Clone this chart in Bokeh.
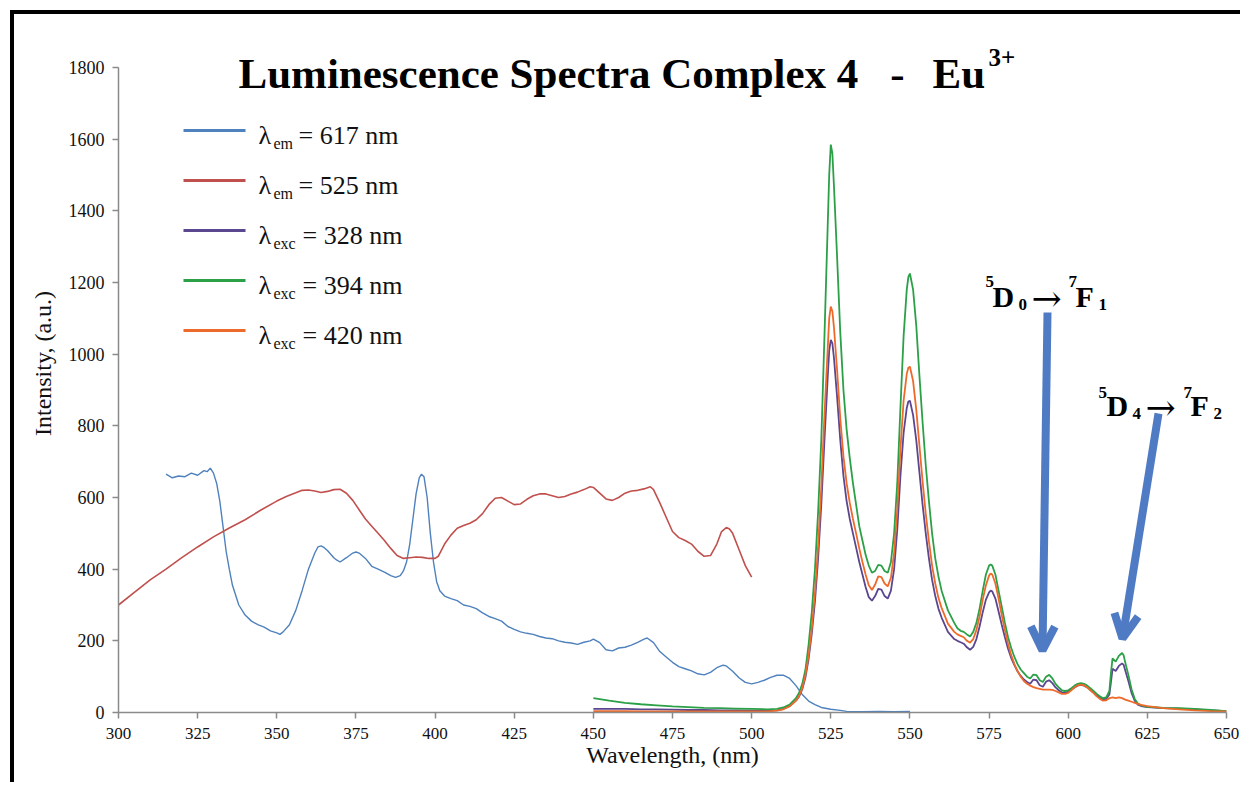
from bokeh.plotting import figure
from bokeh.models import Label, Arrow, OpenHead, Range1d, FixedTicker
from bokeh.embed import file_html
from bokeh.resources import INLINE

# ---------------- data ----------------
# lambda_em = 617 nm (excitation spectrum)
blue_x = [315, 317, 319, 321, 323, 325, 327, 328, 329, 330, 331, 332, 333, 334, 335, 336, 338, 340, 342, 344,
          346, 348, 350, 351, 352, 354, 356, 358, 360, 362, 363, 364, 365, 366, 368, 369, 370, 372, 374, 375,
          376, 378, 380, 382, 384, 386, 387.5, 389, 390, 391, 392, 393, 394, 395, 395.7, 396.5, 397.5, 398.5,
          399.5, 400.5, 401.5, 403, 405, 407, 409, 411, 413, 415, 417, 419, 421, 423, 425, 427, 429, 431, 433,
          435, 437, 439, 441, 443, 445, 447, 449, 450, 452, 454, 456, 458, 460, 462, 464, 466, 467, 469, 471,
          473, 475, 477, 479, 481, 483, 485, 487, 489, 491, 492, 494, 496, 498, 500, 502, 504, 506, 508, 510,
          512, 514, 516, 518, 520, 522, 525, 528, 530, 535, 540, 545, 550]
blue_y = [665, 655, 660, 658, 668, 662, 675, 672, 682, 668, 640, 590, 520, 450, 400, 355, 300, 272, 255, 245,
          238, 228, 222, 218, 225, 245, 285, 340, 400, 445, 462, 465, 460, 452, 432, 425, 420, 432, 445, 448,
          445, 430, 408, 400, 392, 382, 377, 382, 395, 420, 470, 540, 610, 655, 665, 658, 600, 500,
          420, 365, 340, 325, 318, 312, 300, 296, 290, 278, 268, 262, 255, 240, 232, 225, 221, 218, 212,
          208, 206, 200, 196, 194, 190, 196, 200, 205, 195, 175, 172, 180, 182, 188, 196, 205, 208, 195, 170,
          155, 140, 128, 122, 116, 108, 105, 112, 125, 132, 130, 115, 97, 84, 80, 84, 90, 98, 104, 104,
          95, 75, 50, 32, 22, 14, 9, 6, 3, 2, 3, 2, 3]

# lambda_em = 525 nm (excitation spectrum)
red_x = [300, 305, 310, 315, 320, 325, 330, 335, 340, 345, 350, 353, 356, 358, 360, 362, 364, 366, 368, 370,
         372, 374, 376, 378, 380, 382, 384, 386, 388, 390, 392, 394, 396, 398, 400, 401, 403, 405, 407, 409,
         411, 413, 415, 417, 419, 421, 423, 425, 427, 429, 431, 433, 435, 437, 439, 441, 443, 445, 447, 449,
         450, 452, 454, 456, 458, 460, 462, 464, 466, 468, 469, 471, 473, 475, 477, 479, 481, 483, 485, 487,
         489, 490.5, 492, 493, 494, 496, 498, 500]
red_y = [300, 335, 370, 400, 432, 462, 490, 515, 538, 565, 590, 603, 613, 620, 621, 618, 614, 617, 622, 623,
         612, 592, 566, 540, 520, 500, 480, 458, 438, 430, 432, 434, 433, 430, 430, 436, 470, 495, 514, 522,
         528, 538, 555, 580, 598, 600, 590, 580, 582, 595, 605, 610, 610, 605, 600, 603, 610, 615, 622, 630,
         628, 612, 596, 592, 600, 612, 618, 620, 624, 630, 622, 585, 545, 505, 488, 480, 470, 450, 436, 438,
         470, 505, 516, 512, 500, 455, 410, 378]

# emission spectra (shared wavelength grid)
em_x = [450, 455, 460, 465, 470, 475, 480, 485, 490, 495, 500, 505, 508, 510, 512, 514, 515, 516, 517, 518,
        519, 520, 521, 522, 523, 524, 524.5, 525, 525.5, 526, 527, 528, 529, 530, 531, 532, 533, 534, 535, 536,
        537, 538, 539, 540, 541, 542, 543, 544, 545, 546, 547, 548, 549, 549.5, 550, 551, 552, 553, 554, 555,
        556, 557, 558, 559, 560, 562, 564, 565, 566, 567, 568, 569, 570, 571, 572, 573, 574, 575, 575.5, 576,
        577, 578, 579, 580, 581, 582, 583, 584, 585, 586, 587, 588, 589, 590, 591, 592, 593, 594, 595, 596,
        597, 598, 599, 600, 601, 602, 603, 604, 605, 606, 607, 608, 609, 610, 611, 612, 613, 613.5, 614, 615,
        616, 617, 617.5, 618, 619, 620, 621, 622, 623, 625, 630, 635, 640, 645, 650]
# lambda_exc = 328 nm
purple_y = [10, 10, 10, 9, 9, 8, 7, 7, 6, 6, 5, 5, 6, 10, 18, 33, 45, 65, 98, 150,
            220, 310, 430, 580, 760, 930, 1010, 1040, 1030, 990, 880, 760, 660, 590, 540, 500, 460, 420, 385, 350,
            322, 312, 325, 345, 343, 325, 318, 340, 400, 510, 660, 780, 850, 868, 870, 830, 760, 670, 580, 500,
            430, 370, 325, 290, 265, 225, 205, 200, 196, 192, 182, 175, 183, 205, 240, 280, 315, 335, 340, 338,
            318, 282, 245, 210, 178, 152, 132, 115, 102, 92, 85, 80, 92, 90, 76, 72, 86, 90, 82, 70,
            62, 56, 55, 58, 64, 70, 75, 77, 75, 70, 63, 56, 48, 42, 37, 38, 50, 85, 122, 116,
            130, 137, 133, 118, 88, 55, 33, 22, 18, 15, 12, 11, 9, 6, 4]
# lambda_exc = 394 nm
green_y = [40, 33, 27, 23, 20, 17, 15, 13, 12, 11, 10, 9, 10, 14, 22, 40, 55, 80, 120, 190,
           280, 400, 560, 760, 1050, 1350, 1500, 1585, 1560, 1470, 1270, 1060, 900, 790, 710, 640, 580, 520, 480, 440,
           410, 390, 395, 412, 410, 395, 390, 420, 500, 640, 850, 1050, 1180, 1215, 1225, 1180, 1080, 940, 810, 690,
           590, 500, 430, 380, 340, 285, 250, 235, 228, 225, 218, 212, 225, 250, 290, 340, 385, 410, 413, 410,
           385, 340, 295, 250, 210, 180, 155, 135, 120, 110, 100, 95, 106, 104, 90, 85, 100, 105, 95, 80,
           70, 62, 60, 62, 68, 75, 80, 82, 80, 75, 68, 60, 52, 45, 40, 42, 60, 110, 151, 142,
           158, 166, 160, 140, 105, 65, 38, 25, 20, 16, 13, 12, 10, 7, 4]
# lambda_exc = 420 nm
orange_y = [4, 4, 4, 3, 3, 3, 3, 3, 3, 3, 3, 3, 5, 9, 17, 33, 46, 68, 105, 160,
            235, 335, 465, 630, 830, 1010, 1100, 1133, 1120, 1075, 955, 820, 715, 640, 585, 540, 500, 458, 420, 385,
            355, 342, 357, 380, 378, 360, 352, 376, 445, 568, 735, 870, 945, 962, 965, 925, 845, 745, 645, 555,
            478, 410, 360, 320, 292, 248, 225, 218, 214, 210, 200, 195, 205, 230, 268, 315, 355, 382, 388, 385,
            360, 318, 272, 230, 192, 160, 135, 115, 100, 88, 80, 75, 71, 68, 66, 64, 64, 64, 63, 60,
            56, 52, 52, 55, 62, 70, 76, 78, 76, 70, 62, 54, 45, 38, 33, 34, 40, 41, 42, 40,
            42, 40, 38, 36, 33, 30, 27, 24, 21, 18, 12, 9, 6, 4, 3]

x_ticks = [300, 325, 350, 375, 400, 425, 450, 475, 500, 525, 550, 575, 600, 625, 650]
y_ticks = [0, 200, 400, 600, 800, 1000, 1200, 1400, 1600, 1800]

legend_sub = ["em", "em", "exc", "exc", "exc"]
legend_nm = [617, 525, 328, 394, 420]

# ---------------- styling ----------------
C_BLUE = "#4F81BD"
C_RED = "#C0504D"
C_PURPLE = "#5B4690"
C_GREEN = "#2BA047"
C_ORANGE = "#EE6A2A"
C_ARROW = "#4F7BC4"
SERIF = "Liberation Serif"

X0, X1, Y0, Y1 = 300, 650, 0, 1800
# reference pixel geometry of the plot frame (page coords)
FL, FR, FT, FB = 118, 1226, 67, 712
CANVAS_TOP = 14                      # page y of the canvas top (10 margin + 4 border)
Y_TOP = Y1 * (FB - CANVAS_TOP) / (FB - FT)   # frame reaches canvas top so texts are not clipped


def dx(px):
    return X0 + (px - FL) * (X1 - X0) / (FR - FL)


def dy(py):
    return Y0 + (FB - py) * (Y1 - Y0) / (FB - FT)


p = figure(width=1230, height=772, output_backend="svg", toolbar_location=None,
           x_range=Range1d(X0, X1), y_range=Range1d(Y0, Y_TOP),
           min_border_left=104, min_border_right=18, min_border_top=0, min_border_bottom=74)
p.styles = {"margin-left": "10px", "margin-top": "10px",
            "border-top": "4px solid black", "border-left": "4px solid black"}
p.background_fill_color = "white"
p.border_fill_color = "white"
p.outline_line_color = None
p.xgrid.visible = False
p.ygrid.visible = False

p.xaxis.ticker = FixedTicker(ticks=x_ticks)
p.yaxis.ticker = FixedTicker(ticks=y_ticks)
p.yaxis.bounds = (Y0, Y1)
p.xaxis.axis_label = "Wavelength, (nm)"
p.yaxis.axis_label = "Intensity, (a.u.)"
for ax in (p.xaxis[0], p.yaxis[0]):
    ax.axis_line_color = "#8a8a8a"
    ax.axis_line_width = 1.5
    ax.major_tick_line_color = "#8a8a8a"
    ax.major_tick_line_width = 1.5
    ax.minor_tick_line_color = None
    ax.major_tick_out = 6
    ax.major_tick_in = 0
    ax.major_label_text_font = SERIF
    ax.major_label_text_color = "#111111"
    ax.axis_label_text_font = SERIF
    ax.axis_label_text_font_style = "normal"
    ax.axis_label_text_font_size = "24px"
    ax.axis_label_text_color = "#111111"
p.xaxis.major_label_text_font_size = "17px"
p.yaxis.major_label_text_font_size = "18px"
p.xaxis.major_label_standoff = 9
p.yaxis.major_label_standoff = 8
p.xaxis.axis_label_standoff = 0
p.yaxis.axis_label_standoff = 10

# ---------------- curves ----------------
p.line(blue_x, blue_y, line_color=C_BLUE, line_width=1.4)
p.line(red_x, red_y, line_color=C_RED, line_width=1.6)
p.line(em_x, purple_y, line_color=C_PURPLE, line_width=1.8)
p.line(em_x, green_y, line_color=C_GREEN, line_width=1.8)
p.line(em_x, orange_y, line_color=C_ORANGE, line_width=1.8)

# ---------------- legend (manual, with subscripts) ----------------
leg_colors = [C_BLUE, C_RED, C_PURPLE, C_GREEN, C_ORANGE]
for i, (sub, nm, col) in enumerate(zip(legend_sub, legend_nm, leg_colors)):
    ly = 130 + 50 * i
    p.segment(x0=[dx(183)], y0=[dy(ly)], x1=[dx(245)], y1=[dy(ly)], line_color=col, line_width=3)
    p.add_layout(Label(x=dx(258), y=dy(ly + 5), text="λ", text_font=SERIF, text_font_size="26px",
                       text_baseline="alphabetic", text_align="left", text_color="#111111"))
    p.add_layout(Label(x=dx(273), y=dy(ly + 13), text=sub, text_font=SERIF, text_font_size="16px",
                       text_baseline="alphabetic", text_align="left", text_color="#111111"))
    p.add_layout(Label(x=dx(298 if sub == "em" else 302), y=dy(ly + 5), text=f"= {nm} nm", text_font=SERIF,
                       text_font_size="26px", text_baseline="alphabetic", text_align="left",
                       text_color="#111111"))


def lab(text, px, py, size, bold=True, align="left", font=SERIF):
    p.add_layout(Label(x=dx(px), y=dy(py), text=text, text_font=font, text_font_size=f"{size}px",
                       text_font_style="bold" if bold else "normal", text_baseline="alphabetic",
                       text_align=align, text_color="black"))


# ---------------- title ----------------
lab("Luminescence Spectra Complex 4", 238, 73, 43)
lab("-", 897, 73, 43, align="center")
lab("Eu", 932, 73, 43)
lab("3+", 988, 57, 25)

# ---------------- transition annotations ----------------
for parts in [
    [("5", 985, 281, 17), ("D", 992, 296, 30), ("0", 1018, 304, 17),
     ("7", 1068, 281, 17), ("F", 1075, 296, 30), ("1", 1098, 304, 17)],
    [("5", 1098, 392, 17), ("D", 1106, 405, 30), ("4", 1132, 413, 17),
     ("7", 1183, 392, 17), ("F", 1190, 405, 30), ("2", 1213, 413, 17)],
]:
    for t, px, py, s in parts:
        lab(t, px, py, s)
lab("→", 1031, 298, 36, bold=False, font="DejaVu Serif")
lab("→", 1145, 407, 36, bold=False, font="DejaVu Serif")

for (xs, ys, xe, ye) in [(1047, 312, 1042, 650), (1158, 413, 1122, 638)]:
    p.add_layout(Arrow(end=OpenHead(line_color=C_ARROW, line_width=8, size=24),
                       x_start=dx(xs), y_start=dy(ys), x_end=dx(xe), y_end=dy(ye),
                       line_color=C_ARROW, line_width=8))

open("out.html", "w").write(file_html(p, INLINE))
